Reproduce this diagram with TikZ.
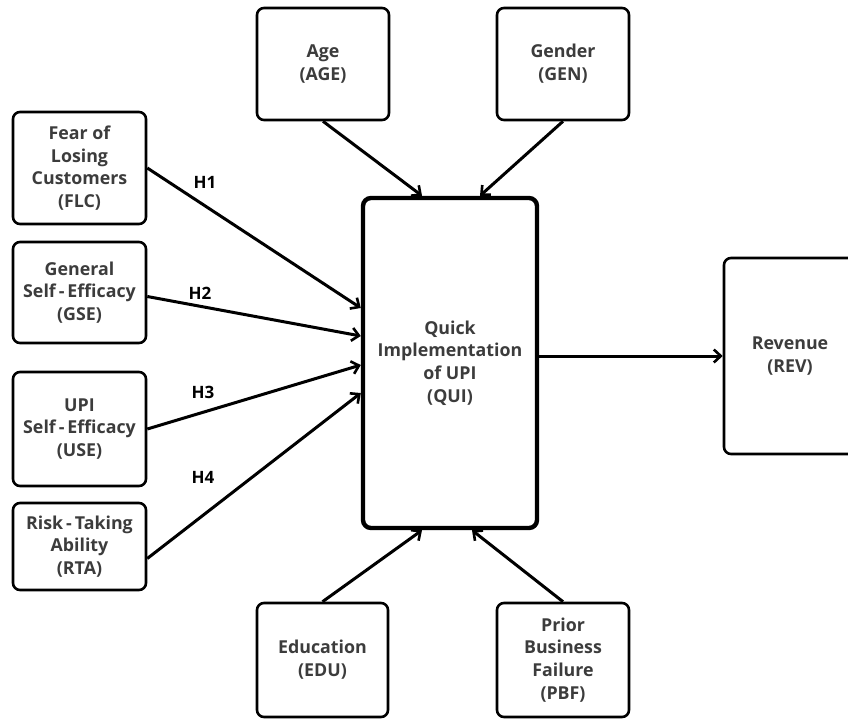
\documentclass[tikz,border=0pt]{standalone}
\usepackage{fontspec}
\setmainfont{Open Sans}
\usetikzlibrary{arrows.meta}
\definecolor{txt}{HTML}{3C3C3C}
\tikzset{
  box/.style={draw=black, line width=2.6pt, rounded corners=7pt, fill=white,
    align=center, text=txt, font=\bfseries\fontsize{17.8}{22.8}\selectfont,
    inner sep=0pt},
  mainbox/.style={box, line width=4.4pt, rounded corners=8pt},
  arr/.style={line width=3pt, -{Straight Barb[length=7pt,width=13pt,line width=2.6pt]}},
  hlabel/.style={font=\bfseries\fontsize{17}{19}\selectfont, text=black}
}
\newcommand{\hy}{\,-\,}
\begin{document}
\begin{tikzpicture}[x=1pt,y=-1pt]
\useasboundingbox (0,0) rectangle (848,720);
% predictors on the left
\node[box, minimum width=133pt, minimum height=112pt] (flc) at (79.5,168) {Fear of\\Losing\\Customers\\(FLC)};
\node[box, minimum width=133pt, minimum height=101pt] (gse) at (79.5,292.5) {General\\Self\hy Efficacy\\(GSE)};
\node[box, minimum width=133pt, minimum height=114pt] (use) at (79.5,429) {UPI\\Self\hy Efficacy\\(USE)};
\node[box, minimum width=133pt, minimum height=87pt] (rta) at (79.5,546.5) {Risk\hy Taking\\Ability\\(RTA)};
% control variables
\node[box, minimum width=132pt, minimum height=112pt] (age) at (323,64) {Age\\(AGE)};
\node[box, minimum width=132pt, minimum height=112pt] (gen) at (563,64) {Gender\\(GEN)};
\node[box, minimum width=131pt, minimum height=114pt] (edu) at (322.5,660) {Education\\(EDU)};
\node[box, minimum width=132pt, minimum height=114pt] (pbf) at (563,660) {Prior\\Business\\Failure\\(PBF)};
% central construct and outcome
\node[mainbox, minimum width=174pt, minimum height=330pt] (qui) at (450,363) {Quick\\Implementation\\of UPI\\(QUI)};
\node[box, minimum width=132pt, minimum height=196pt] (rev) at (790,356) {Revenue\\(REV)};
% hypothesised paths
\draw[arr] (flc.east) -- ([yshift=55pt]qui.west);
\draw[arr] ([yshift=-4pt]gse.east) -- ([yshift=27pt]qui.west);
\draw[arr] (use.east) -- ([yshift=-2pt]qui.west);
\draw[arr] ([yshift=-12pt]rta.east) -- ([yshift=-30pt]qui.west);
\node[hlabel] (h1) at (205,182) {H1};
\node[hlabel] (h2) at (200,293) {H2};
\node[hlabel] (h3) at (203,392) {H3};
\node[hlabel] (h4) at (203,477) {H4};
% control paths
\draw[arr] (age.south) -- ([xshift=-28pt]qui.north);
\draw[arr] (gen.south) -- ([xshift=30pt]qui.north);
\draw[arr] (edu.north) -- ([xshift=-28pt]qui.south);
\draw[arr] (pbf.north) -- ([xshift=22pt]qui.south);
% outcome path
\draw[arr] (qui.east |- rev.west) -- (rev.west);
\end{tikzpicture}
\end{document}
